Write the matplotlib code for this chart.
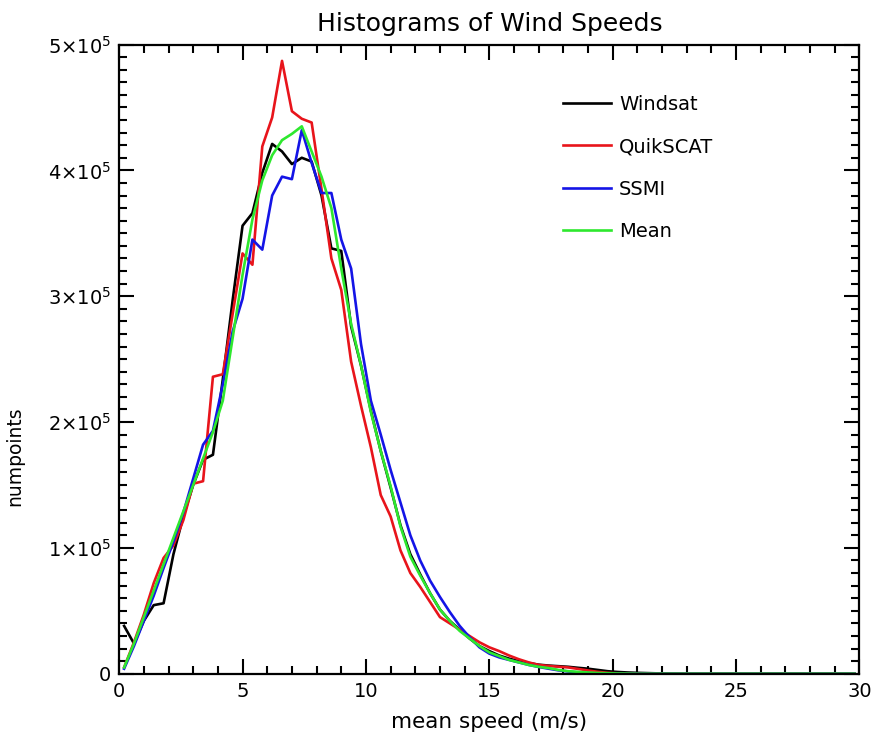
import matplotlib
matplotlib.use('Agg')
import matplotlib.pyplot as plt
from matplotlib.ticker import MultipleLocator, FuncFormatter

# bin centres (m/s), 0.4 m/s bins
speed = [round(0.2 + 0.4 * i, 1) for i in range(75)]

# counts in units of 1e5
windsat = [0.38, 0.24, 0.42, 0.545, 0.56, 0.95, 1.25, 1.50, 1.70, 1.74,
           2.34, 2.97, 3.56, 3.66, 3.98, 4.21, 4.15, 4.05, 4.10, 4.07,
           3.80, 3.38, 3.36, 2.76, 2.45, 2.09, 1.77, 1.48, 1.18, 0.95,
           0.79, 0.64, 0.51, 0.42, 0.35, 0.28, 0.22, 0.18, 0.145, 0.12,
           0.10, 0.085, 0.072, 0.065, 0.06, 0.055, 0.047, 0.04, 0.03, 0.02,
           0.014, 0.01, 0.007, 0.005, 0.003, 0.002, 0.001, 0, 0, 0,
           0, 0, 0, 0, 0, 0, 0, 0, 0, 0,
           0, 0, 0, 0, 0]
quikscat = [0.05, 0.25, 0.47, 0.72, 0.92, 1.02, 1.22, 1.51, 1.53, 2.36,
            2.38, 2.86, 3.34, 3.25, 4.19, 4.42, 4.87, 4.47, 4.41, 4.38,
            3.85, 3.30, 3.05, 2.48, 2.13, 1.80, 1.42, 1.25, 0.98, 0.80,
            0.69, 0.57, 0.45, 0.40, 0.35, 0.30, 0.25, 0.21, 0.18, 0.145,
            0.115, 0.09, 0.07, 0.062, 0.056, 0.05, 0.038, 0.026, 0.015, 0.007,
            0.003, 0.001, 0, 0, 0, 0, 0, 0, 0, 0,
            0, 0, 0, 0, 0, 0, 0, 0, 0, 0,
            0, 0, 0, 0, 0]
ssmi = [0.04, 0.22, 0.42, 0.62, 0.84, 1.05, 1.28, 1.55, 1.82, 1.93,
        2.30, 2.72, 2.98, 3.45, 3.37, 3.80, 3.95, 3.93, 4.32, 4.06,
        3.82, 3.82, 3.45, 3.22, 2.62, 2.17, 1.90, 1.62, 1.36, 1.10,
        0.90, 0.74, 0.61, 0.49, 0.38, 0.29, 0.21, 0.16, 0.13, 0.11,
        0.09, 0.07, 0.054, 0.04, 0.027, 0.018, 0.01, 0.005, 0.002, 0,
        0, 0, 0, 0, 0, 0, 0, 0, 0, 0,
        0, 0, 0, 0, 0, 0, 0, 0, 0, 0,
        0, 0, 0, 0, 0]
mean = [0.05, 0.24, 0.45, 0.66, 0.87, 1.08, 1.29, 1.50, 1.71, 1.92,
        2.17, 2.67, 3.17, 3.61, 3.92, 4.12, 4.24, 4.29, 4.35, 4.15,
        3.95, 3.70, 3.22, 2.78, 2.45, 2.08, 1.77, 1.49, 1.17, 0.93,
        0.78, 0.64, 0.51, 0.42, 0.34, 0.28, 0.22, 0.17, 0.14, 0.11,
        0.09, 0.07, 0.055, 0.045, 0.03, 0.02, 0.015, 0.01, 0.006, 0.004,
        0.002, 0.001, 0, 0, 0, 0, 0, 0, 0, 0,
        0, 0, 0, 0, 0, 0, 0, 0, 0, 0,
        0, 0, 0, 0, 0]

series = [('Windsat', windsat, 'black'),
          ('QuikSCAT', quikscat, '#e8141b'),
          ('SSMI', ssmi, '#1414e6'),
          ('Mean', mean, '#2ee82e')]

plt.rcParams['font.family'] = 'DejaVu Sans'
plt.rcParams['font.size'] = 14

fig = plt.figure(figsize=(8.73, 7.42), dpi=100)
ax = fig.add_axes([0.1365, 0.092, 0.848, 0.848])

for name, vals, col in series:
    ax.plot(speed, [v * 1e5 for v in vals], color=col, lw=1.9, label=name)

ax.set_xlim(0, 30)
ax.set_ylim(0, 5e5)
ax.xaxis.set_major_locator(MultipleLocator(5))
ax.xaxis.set_minor_locator(MultipleLocator(1))
ax.yaxis.set_major_locator(MultipleLocator(1e5))
ax.yaxis.set_minor_locator(MultipleLocator(1e4))


def yfmt(v, pos):
    n = int(round(v / 1e5))
    if n == 0:
        return '0'
    return r'$%d{\times}10^5$' % n


ax.yaxis.set_major_formatter(FuncFormatter(yfmt))
ax.tick_params(which='both', direction='in', top=True, right=True, width=1.5)
ax.tick_params(which='major', length=11, labelsize=14, pad=6)
ax.tick_params(which='minor', length=5.5)
for s in ax.spines.values():
    s.set_linewidth(1.6)

ax.set_title('Histograms of Wind Speeds', fontsize=18, pad=10)
ax.set_xlabel('mean speed (m/s)', fontsize=15.5, labelpad=8)
ax.set_ylabel('numpoints', fontsize=13.5)
ax.yaxis.set_label_coords(-0.128, 0.345)

ax.legend(loc='upper left', bbox_to_anchor=(0.599, 0.92), frameon=False,
          borderpad=0, borderaxespad=0, handlelength=2.5, handletextpad=0.4,
          labelspacing=1.2, fontsize=14)

fig.savefig('out.png', dpi=100)
